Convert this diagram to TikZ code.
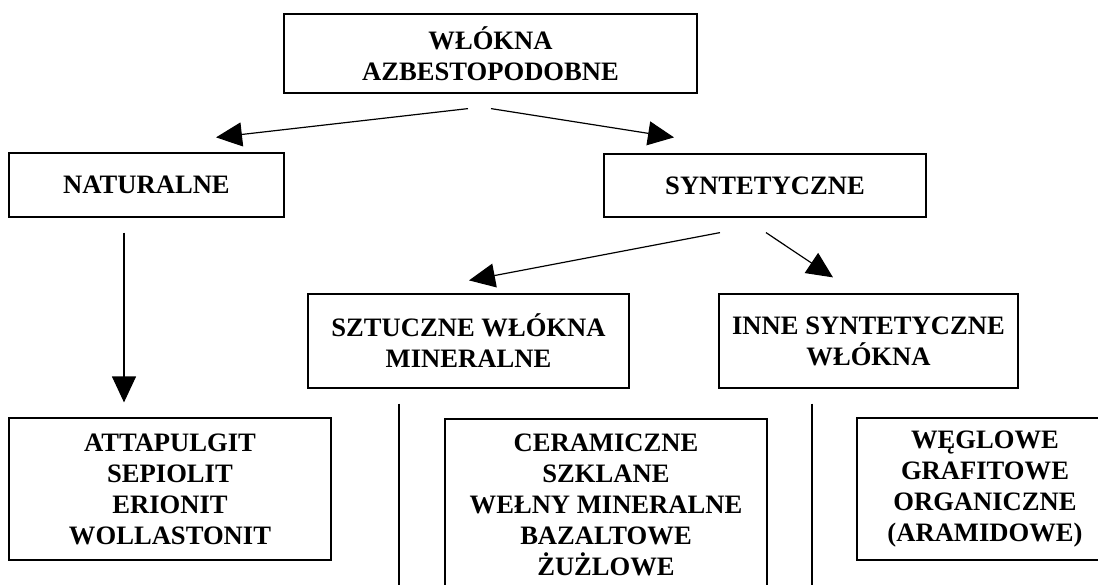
\documentclass[tikz,border=0pt]{standalone}
\usepackage{fontspec}
\setmainfont{Liberation Serif}
\usetikzlibrary{positioning}
\usetikzlibrary{arrows.meta}

\begin{document}
\begin{tikzpicture}[x=1pt, y=-1pt, node distance=50pt, every text node part/.style={align=center},
  box/.style={draw, line width=1.2pt, inner sep=0pt, font=\fontsize{26.6}{31}\selectfont\bfseries},
  arrow/.style={line width=1.2pt, -{Triangle[length=26pt, width=24pt]}}]
\clip (0,0) rectangle (1098,584);

\node (wlokna) [box, minimum width=413pt, minimum height=79pt] at (490.5,53.5) {WŁÓKNA\\AZBESTOPODOBNE};
\node (naturalne) [box, minimum width=275pt, minimum height=64pt] at (146.5,185) {NATURALNE};
\node (syntetyczne) [box, minimum width=322pt, minimum height=63pt] at (765,185.5) {SYNTETYCZNE};
\node (sztuczne) [box, minimum width=321pt, minimum height=94pt] at (468.5,341) {SZTUCZNE WŁÓKNA\\MINERALNE};
\node (inne) [box, node distance=400pt, right of=sztuczne, minimum width=299pt, minimum height=94pt] {INNE SYNTETYCZNE\\WŁÓKNA};
\node (naturalne lista) [box, minimum width=322pt, minimum height=142pt] at (170,489) {ATTAPULGIT\\SEPIOLIT\\ERIONIT\\WOLLASTONIT};
\node (sztuczne lista) [box, minimum width=322pt, minimum height=172pt] at (606,505) {CERAMICZNE\\SZKLANE\\WEŁNY MINERALNE\\BAZALTOWE\\ŻUŻLOWE};
\node (inne lista) [box, minimum width=256pt, minimum height=142pt] at (985,489) {WĘGLOWE\\GRAFITOWE\\ORGANICZNE\\(ARAMIDOWE)};

\coordinate (koniec a) at (399,590);
\coordinate (koniec b) at (812,590);

\draw [arrow] ([xshift=-22.5pt, yshift=-15pt]wlokna.south) -- ([xshift=69.5pt, yshift=15pt]naturalne.north);
\draw [arrow] ([xshift=0.5pt, yshift=-15pt]wlokna.south) -- ([xshift=-91pt, yshift=16pt]syntetyczne.north);
\draw [arrow] ([xshift=-45pt, yshift=-15pt]syntetyczne.south) -- ([xshift=0.5pt, yshift=13pt]sztuczne.north);
\draw [arrow] ([xshift=1pt, yshift=-15pt]syntetyczne.south) -- ([xshift=-35.5pt, yshift=16pt]inne.north);
\draw [arrow] ([xshift=-22.5pt, yshift=-15pt]naturalne.south) -- ([xshift=-46pt, yshift=15pt]naturalne lista.north);

\draw [line width=1.2pt] ([xshift=-69.5pt, yshift=-15pt]sztuczne.south) -- (koniec a);
\draw [line width=1.2pt] ([xshift=-56.5pt, yshift=-15pt]inne.south) -- (koniec b);

\end{tikzpicture}
\end{document}
